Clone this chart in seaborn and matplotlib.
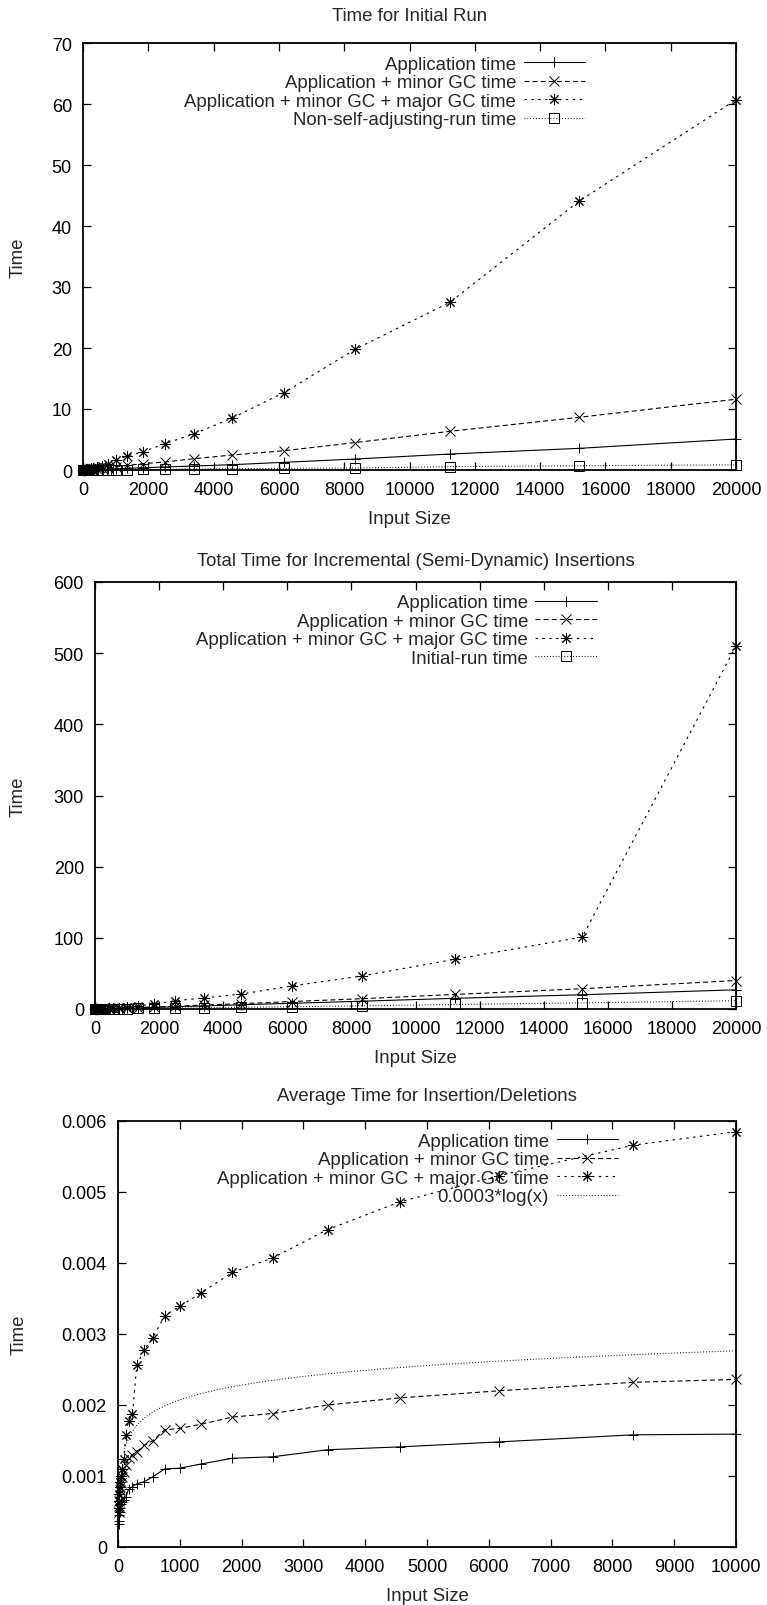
import numpy as np
import matplotlib
matplotlib.use("Agg")
import matplotlib.pyplot as plt
from matplotlib.ticker import FuncFormatter, MultipleLocator
import seaborn as sns

# ------------------------------------------------------------------
# data (three gnuplot-style panels)
# ------------------------------------------------------------------
sizes_big = [11, 15, 21, 28, 38, 51, 69, 93, 126, 170, 234, 304, 422, 567, 756,
             1000, 1350, 1850, 2500, 3390, 4560, 6160, 8340, 11240, 15200, 20000]
sizes_avg = [11, 15, 21, 28, 38, 51, 69, 93, 126, 170, 234, 304, 422, 567, 756,
             1000, 1350, 1850, 2500, 3390, 4560, 6160, 8340, 10000]

# panel 1 - initial run
init_app = [0.002, 0.003, 0.004, 0.005, 0.007, 0.009, 0.012, 0.016, 0.022, 0.03, 0.04,
            0.05, 0.07, 0.1, 0.14, 0.2, 0.27, 0.37, 0.5, 0.65, 0.87, 1.26, 1.8, 2.62, 3.55, 5.08]
init_minor = [0.004, 0.006, 0.008, 0.01, 0.015, 0.02, 0.03, 0.04, 0.05, 0.07, 0.1,
              0.13, 0.18, 0.25, 0.35, 0.5, 0.75, 1.05, 1.3, 1.85, 2.45, 3.16, 4.5, 6.34, 8.64, 11.6]
init_major = [0.008, 0.01, 0.015, 0.02, 0.03, 0.04, 0.06, 0.09, 0.12, 0.18, 0.25,
              0.35, 0.5, 0.7, 1.0, 1.6, 2.3, 3.0, 4.3, 5.9, 8.5, 12.7, 19.8, 27.5, 44.1, 60.7]
init_nonsa = [0.001, 0.001, 0.002, 0.002, 0.003, 0.004, 0.005, 0.007, 0.009, 0.012, 0.015,
              0.02, 0.025, 0.03, 0.04, 0.05, 0.07, 0.09, 0.12, 0.16, 0.2, 0.28, 0.33, 0.55, 0.7, 0.85]

# panel 2 - incremental insertions
inc_app = [0.006, 0.009, 0.013, 0.018, 0.025, 0.035, 0.05, 0.07, 0.1, 0.14, 0.2,
           0.28, 0.4, 0.55, 0.8, 1.1, 1.6, 2.2, 3.1, 4.3, 6.0, 8.0, 11.0, 15.0, 20.0, 27.0]
inc_minor = [0.008, 0.012, 0.017, 0.024, 0.033, 0.045, 0.065, 0.09, 0.13, 0.18, 0.26,
             0.36, 0.52, 0.72, 1.0, 1.4, 2.0, 2.8, 3.9, 5.5, 7.5, 10.5, 14.5, 20.5, 28.5, 40.0]
inc_major = [0.015, 0.02, 0.03, 0.045, 0.065, 0.09, 0.13, 0.18, 0.25, 0.35, 0.5,
             0.7, 1.0, 1.4, 2.0, 3.0, 4.6, 7.0, 11.6, 15.5, 21.0, 32.5, 46.5, 70.0, 101.0, 510.0]
inc_initial = [0.004, 0.006, 0.008, 0.01, 0.015, 0.02, 0.03, 0.04, 0.05, 0.07, 0.1,
               0.13, 0.18, 0.25, 0.35, 0.5, 0.75, 1.05, 1.3, 1.85, 2.45, 3.16, 4.5, 6.34, 8.64, 11.6]

# panel 3 - average per insertion/deletion
avg_app = [0.00032, 0.00036, 0.00045, 0.0005, 0.00055, 0.0006, 0.00063, 0.00066, 0.0007,
           0.00081, 0.00085, 0.00089, 0.00092, 0.00099, 0.0011, 0.00111, 0.00117, 0.00125,
           0.00127, 0.00137, 0.00141, 0.00148, 0.00158, 0.00159]
avg_minor = [0.0005, 0.00058, 0.00065, 0.00072, 0.0008, 0.0009, 0.00098, 0.00105, 0.00115,
             0.00125, 0.0013, 0.00134, 0.00143, 0.0015, 0.00165, 0.00167, 0.00173, 0.00183,
             0.00188, 0.002, 0.0021, 0.0022, 0.00232, 0.00236]
avg_major = [0.00055, 0.00065, 0.00075, 0.00085, 0.00092, 0.001, 0.0011, 0.00124, 0.00158,
             0.00177, 0.00187, 0.00256, 0.00278, 0.00295, 0.00326, 0.00339, 0.00358, 0.00387,
             0.00407, 0.00447, 0.00486, 0.00523, 0.00566, 0.00585]

# gnuplot samples the reference function 100 times over the x range
log_x = np.linspace(0, 10000, 100)[1:]
log_y = 0.0003 * np.log(log_x)

titles = ["Time for Initial Run",
          "Total Time for Incremental (Semi-Dynamic) Insertions",
          "Average Time for Insertion/Deletions"]
label_app = "Application time"
label_minor = "Application + minor GC time"
label_major = "Application + minor GC + major GC time"

# ------------------------------------------------------------------
# style
# ------------------------------------------------------------------
sns.set_theme(style="ticks")
plt.rcParams["font.family"] = ["Liberation Sans", "DejaVu Sans"]
FS = 13.4
TICK_FS = 13.0

SOLID = "-"
DASHED = (0, (4.5, 2.8))
SHORTDASH = (0, (2.2, 4.0))
DOTTED = (0, (0.8, 1.8))
ASTERISK = (8, 2, 0)


def draw_series(ax, x, y, label, marker, ls, ms=6.5):
    kws = dict(color="black", linewidth=0.8, linestyle=ls, clip_on=False)
    if marker is not None:
        kws.update(marker=marker, markersize=ms, markeredgecolor="black",
                   markeredgewidth=0.7, markerfacecolor="none")
    sns.lineplot(x=x, y=y, ax=ax, label=label, **kws)


def style_axes(ax, xmax, xstep, ymax, ystep, ylabel_x, fmt):
    ax.set_xlim(0, xmax)
    ax.set_ylim(0, ymax)
    ax.xaxis.set_major_locator(MultipleLocator(xstep))
    ax.yaxis.set_major_locator(MultipleLocator(ystep))
    ax.xaxis.set_major_formatter(FuncFormatter(lambda v, p: "%d" % round(v)))
    ax.yaxis.set_major_formatter(FuncFormatter(fmt))
    ax.tick_params(direction="in", top=True, right=True, length=6, width=0.9,
                   labelsize=TICK_FS, pad=8, colors="black")
    for sp in ax.spines.values():
        sp.set_visible(True)
        sp.set_linewidth(1.3)
        sp.set_color("black")
    ax.set_xlabel("Input Size", fontsize=FS)
    ax.set_ylabel("Time", fontsize=FS)
    ax.xaxis.set_label_coords(0.5, -0.094)
    ax.yaxis.set_label_coords(ylabel_x, 0.5)


def add_key(ax, xr, yt):
    ax.legend(loc="upper right", bbox_to_anchor=(xr, yt), markerfirst=False,
              frameon=False, handlelength=3.3, handletextpad=0.4,
              labelspacing=0.075, borderpad=0, borderaxespad=0, numpoints=1,
              fontsize=FS)


W, H = 767, 1606
fig = plt.figure(figsize=(W / 100, H / 100), dpi=100)


def axes_px(left, right, top, bottom):
    return fig.add_axes([left / W, 1 - bottom / H, (right - left) / W, (bottom - top) / H])


# ------------------------------------------------------------------
# panel 1
# ------------------------------------------------------------------
ax1 = axes_px(83, 736, 44, 471)
draw_series(ax1, sizes_big, init_app, label_app, "+", SOLID)
draw_series(ax1, sizes_big, init_minor, label_minor, "x", DASHED)
draw_series(ax1, sizes_big, init_major, label_major, ASTERISK, SHORTDASH, ms=8)
draw_series(ax1, sizes_big, init_nonsa, "Non-self-adjusting-run time", "s", DOTTED, ms=6.5)
style_axes(ax1, 20000, 2000, 70, 10, -0.086, lambda v, p: "%d" % round(v))
ax1.set_title(titles[0], fontsize=FS, pad=16.5)
add_key(ax1, 0.769, 0.970)

# ------------------------------------------------------------------
# panel 2
# ------------------------------------------------------------------
ax2 = axes_px(95, 736, 583, 1010)
draw_series(ax2, sizes_big, inc_app, label_app, "+", SOLID)
draw_series(ax2, sizes_big, inc_minor, label_minor, "x", DASHED)
draw_series(ax2, sizes_big, inc_major, label_major, ASTERISK, SHORTDASH, ms=8)
draw_series(ax2, sizes_big, inc_initial, "Initial-run time", "s", DOTTED, ms=6.5)
style_axes(ax2, 20000, 2000, 600, 100, -0.106, lambda v, p: "%d" % round(v))
ax2.set_title(titles[1], fontsize=FS, pad=12)
add_key(ax2, 0.783, 0.971)

# ------------------------------------------------------------------
# panel 3
# ------------------------------------------------------------------
ax3 = axes_px(118, 736, 1122, 1548)
draw_series(ax3, sizes_avg, avg_app, label_app, "+", SOLID)
draw_series(ax3, sizes_avg, avg_minor, label_minor, "x", DASHED)
draw_series(ax3, sizes_avg, avg_major, label_major, ASTERISK, SHORTDASH, ms=8)
draw_series(ax3, log_x, log_y, "0.0003*log(x)", None, DOTTED)
style_axes(ax3, 10000, 1000, 0.006, 0.001, -0.146, lambda v, p: "%g" % round(v, 6))
ax3.set_title(titles[2], fontsize=FS, pad=15)
add_key(ax3, 0.809, 0.972)

fig.savefig("out.png", dpi=100)
